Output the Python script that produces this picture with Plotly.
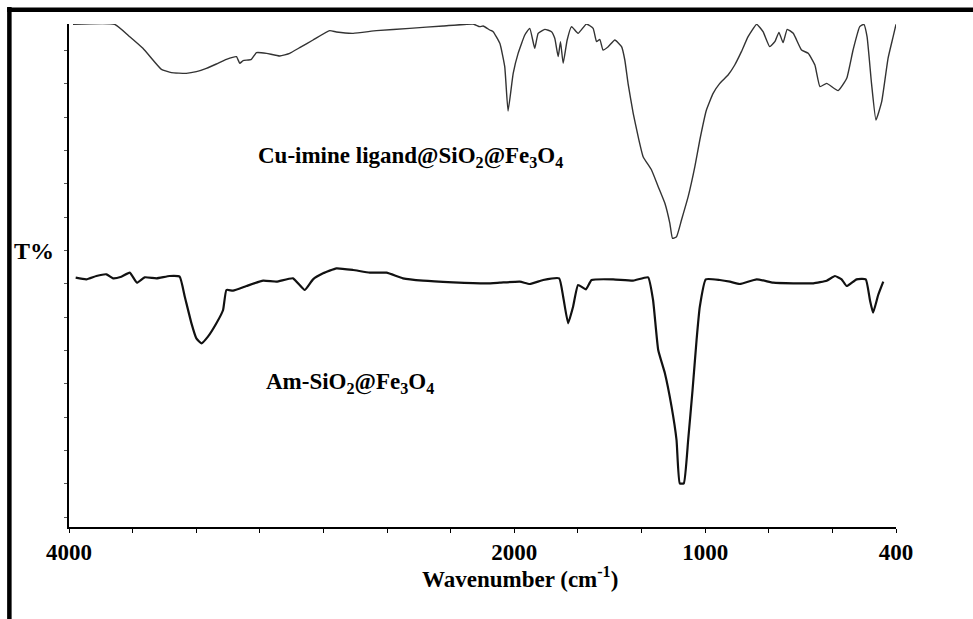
import numpy as np
import plotly.graph_objects as go

# ---- data (wavenumber in cm-1, transmittance in arbitrary units) ----
cu_wavenumber = [3982, 3795, 3727, 3668, 3623, 3585, 3540, 3473, 3428, 3383, 3338, 3293, 3248, 3233, 3218,
                 3181, 3158, 3113, 3053, 3009, 2964, 2904, 2829, 2799, 2724, 2619, 2470, 2320, 2185, 2155,
                 2140, 2110, 2095, 2065, 2043, 2028, 2005, 1980, 1945, 1919, 1893, 1875, 1840, 1805, 1788,
                 1770, 1758, 1744, 1723, 1700, 1666, 1622, 1587, 1569, 1552, 1535, 1508, 1473, 1438, 1421,
                 1404, 1377, 1351, 1325, 1281, 1246, 1211, 1185, 1171, 1150, 1124, 1089, 1054, 1028, 996,
                 975, 954, 928, 907, 886, 865, 838, 818, 797, 781, 768, 755, 742, 723, 697,
                 676, 655, 639, 618, 582, 555, 535, 514, 501, 491, 477, 463, 445, 425, 409, 400]
cu_transmittance = [14.78, 14.78, 14.41, 14.06, 13.71, 13.43, 13.33, 13.31, 13.36, 13.46, 13.59, 13.73, 13.81, 13.61, 13.69,
                    13.73, 13.93, 13.91, 13.83, 13.91, 14.08, 14.31, 14.59, 14.55, 14.51, 14.59, 14.66, 14.73, 14.79, 14.71,
                    14.73, 14.61, 14.56, 14.21, 13.51, 12.18, 13.31, 13.91, 14.46, 14.66, 14.06, 14.51, 14.63, 14.56, 14.36,
                    13.81, 14.26, 13.61, 14.31, 14.71, 14.51, 14.79, 14.66, 14.26, 14.33, 14.01, 14.11, 14.31, 14.11, 13.71,
                    13.01, 12.11, 11.41, 10.81, 10.41, 9.91, 9.41, 8.81, 8.36, 8.41, 8.91, 9.61, 10.51, 11.31, 12.21,
                    12.71, 13.01, 13.26, 13.56, 13.96, 14.41, 14.78, 14.56, 14.11, 14.26, 14.54, 14.23, 14.63, 14.51, 14.01,
                    13.91, 13.56, 12.91, 13.01, 12.79, 13.16, 14.01, 14.71, 14.78, 14.41, 13.01, 11.91, 12.46, 13.76, 14.41, 14.78]

am_wavenumber = [3970, 3922, 3877, 3832, 3802, 3765, 3727, 3695, 3660, 3607, 3548, 3503, 3480, 3450, 3428,
                 3405, 3376, 3338, 3308, 3293, 3263, 3203, 3128, 3068, 2994, 2941, 2904, 2859, 2799, 2724,
                 2649, 2574, 2500, 2410, 2275, 2125, 2065, 1971, 1919, 1849, 1765, 1744, 1718, 1692, 1666,
                 1625, 1595, 1482, 1377, 1299, 1273, 1246, 1211, 1176, 1150, 1133, 1112, 1089, 1066, 1045,
                 1028, 998, 954, 922, 891, 838, 786, 723, 660, 618, 592, 571, 555, 524, 495,
                 482, 472, 456, 440]
am_transmittance = [7.18, 7.13, 7.23, 7.28, 7.16, 7.21, 7.33, 7.03, 7.19, 7.16, 7.23, 7.21, 6.61, 5.81, 5.36,
                    5.21, 5.41, 5.81, 6.21, 6.81, 6.79, 6.93, 7.09, 7.06, 7.16, 6.81, 7.13, 7.31, 7.46, 7.41,
                    7.33, 7.33, 7.16, 7.09, 7.04, 7.01, 7.03, 7.06, 6.99, 7.11, 7.16, 6.61, 5.81, 6.31, 6.96,
                    6.83, 7.11, 7.13, 7.09, 7.19, 6.51, 5.01, 4.31, 3.31, 2.31, 1.01, 1.01, 2.31, 3.81, 5.31,
                    6.31, 7.13, 7.11, 7.06, 6.99, 7.13, 7.03, 7.01, 7.01, 7.09, 7.23, 7.13, 6.93, 7.13, 7.13,
                    6.51, 6.13, 6.66, 7.06]

tick_labels = [4000, 2000, 1000, 400]
tick_label_index = [0, 7, 10, 13]   # position of the labelled ticks among 13 equal intervals

SERIF = "Liberation Serif, Times New Roman, serif"


def to_axis(w):
    """Map wavenumber onto the piecewise-linear (expanded below 2000) axis."""
    w = np.asarray(w, dtype=float)
    return np.interp(-w, [-t for t in tick_labels], tick_label_index)


fig = go.Figure()
fig.add_trace(go.Scatter(x=to_axis(cu_wavenumber), y=cu_transmittance, mode="lines",
                         line=dict(color="#333333", width=1.4, shape="spline", smoothing=0.4),
                         name="Cu-imine ligand@SiO2@Fe3O4", showlegend=False))
fig.add_trace(go.Scatter(x=to_axis(am_wavenumber), y=am_transmittance, mode="lines",
                         line=dict(color="#111111", width=2.2, shape="spline", smoothing=0.4),
                         name="Am-SiO2@Fe3O4", showlegend=False))

fig.update_layout(
    width=973, height=619,
    margin=dict(l=69, r=77, t=24, b=92),
    paper_bgcolor="white", plot_bgcolor="white",
    font=dict(family=SERIF, color="black"),
    xaxis=dict(range=[0, 13], tickmode="array",
               tickvals=to_axis(tick_labels).tolist(), ticktext=[str(t) for t in tick_labels],
               showgrid=False, zeroline=False,
               showline=True, linecolor="black", linewidth=1.6, ticks="outside", ticklen=4,
               tickwidth=1.3, tickcolor="black", ticklabelstandoff=0,
               minor=dict(ticks="outside", tickmode="linear", tick0=0, dtick=1, ticklen=4,
                          tickwidth=1.3, tickcolor="black", showgrid=False),
               tickfont=dict(family=SERIF, size=23, color="black", weight="bold")),
    yaxis=dict(range=[-0.3, 14.79], tickmode="linear", tick0=0, dtick=1, showticklabels=False,
               showgrid=False, zeroline=False, showline=True, linecolor="black", linewidth=1.6,
               ticks="outside", ticklen=3, tickwidth=1, tickcolor="#555555"),
    annotations=[
        dict(x=to_axis(2466).item(), y=10.8, xref="x", yref="y",
             text="<b>Cu-imine ligand@SiO<sub>2</sub>@Fe<sub>3</sub>O<sub>4</sub></b>",
             showarrow=False, font=dict(family=SERIF, size=23, color="black"),
             xanchor="center", yanchor="middle"),
        dict(x=to_axis(2740).item(), y=4.02, xref="x", yref="y",
             text="<b>Am-SiO<sub>2</sub>@Fe<sub>3</sub>O<sub>4</sub></b>",
             showarrow=False, font=dict(family=SERIF, size=23, color="black"),
             xanchor="center", yanchor="middle"),
        dict(x=-0.0427, y=0.549, xref="paper", yref="paper", text="<b>T%</b>",
             showarrow=False, font=dict(family=SERIF, size=24, color="black"),
             xanchor="center", yanchor="middle"),
        dict(x=0.545, y=-0.101, xref="paper", yref="paper",
             text="<b>Wavenumber (cm<sup>-1</sup>)</b>",
             showarrow=False, font=dict(family=SERIF, size=23, color="black"),
             xanchor="center", yanchor="middle"),
    ],
    shapes=[
        dict(type="line", xref="paper", yref="paper", x0=-0.0721, x1=-0.0721, y0=1.034, y1=-0.2,
             line=dict(color="black", width=4.5)),
        dict(type="line", xref="paper", yref="paper", x0=-0.0748, x1=1.12, y0=1.0284, y1=1.0284,
             line=dict(color="black", width=4.5)),
    ],
)

fig.write_html("out.html")
